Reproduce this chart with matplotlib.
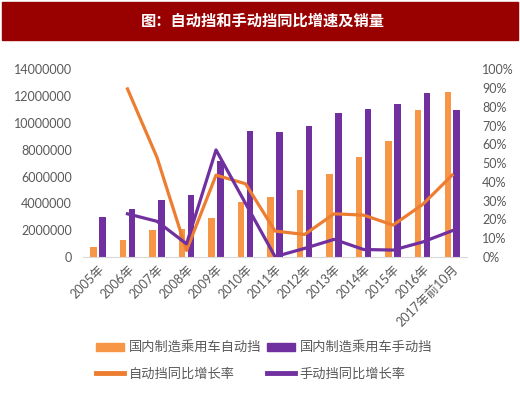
import matplotlib
matplotlib.use("Agg")
import matplotlib.pyplot as plt
import numpy as np
from matplotlib.patches import Patch, Rectangle
from matplotlib.lines import Line2D
from matplotlib.ticker import FuncFormatter

plt.rcParams['font.family'] = ['Lato', 'Noto Sans CJK SC', 'DejaVu Sans']

years = ['2005年', '2006年', '2007年', '2008年', '2009年', '2010年', '2011年',
         '2012年', '2013年', '2014年', '2015年', '2016年', '2017年前10月']
auto_sales = [780000, 1290000, 2030000, 2100000, 2900000, 4070000, 4510000,
              5010000, 6180000, 7420000, 8660000, 10970000, 12290000]
manual_sales = [2960000, 3600000, 4270000, 4640000, 7120000, 9380000, 9350000,
                9730000, 10700000, 11040000, 11390000, 12210000, 10970000]
# growth rates start in 2006
auto_growth = [None, 89.5, 53.0, 3.5, 43.6, 39.0, 13.8, 12.0, 23.0, 22.3, 17.0, 28.0, 43.6]
manual_growth = [None, 23.0, 19.0, 7.0, 57.0, 28.5, 0.2, 4.6, 9.4, 4.0, 3.7, 8.0, 14.0]

c_auto_bar = '#F79646'
c_man = '#7030A0'
c_auto_line = '#ED7D31'
gray = '#595959'

fig = plt.figure(figsize=(5.2, 3.93), dpi=100)
ax = fig.add_axes([0.16, 0.346, 0.738, 0.478])
ax2 = ax.twinx()

x = np.arange(len(years))
ax.bar(x - 0.15, auto_sales, width=0.22, color=c_auto_bar, zorder=2)
ax.bar(x + 0.15, manual_sales, width=0.22, color=c_man, zorder=2)

xa = [i for i, v in enumerate(auto_growth) if v is not None]
ax2.plot(xa, [auto_growth[i] for i in xa], color=c_auto_line, lw=2.3)
xm = [i for i, v in enumerate(manual_growth) if v is not None]
ax2.plot(xm, [manual_growth[i] for i in xm], color=c_man, lw=2.3)

ax.set_xlim(-0.5, len(years) - 0.5)
ax.set_ylim(0, 14000000)
ax.set_yticks(np.arange(0, 14000001, 2000000))
ax.yaxis.set_major_formatter(FuncFormatter(lambda v, p: f'{int(v)}'))
ax2.set_ylim(0, 100)
ax2.set_yticks(np.arange(0, 101, 10))
ax2.yaxis.set_major_formatter(FuncFormatter(lambda v, p: f'{int(v)}%'))

ax.set_xticks(x)
ax.set_xticklabels(years, rotation=45, ha='right', va='top', rotation_mode='anchor')

for a in (ax, ax2):
    for s in a.spines.values():
        s.set_visible(False)
    a.tick_params(length=0, labelsize=9, labelcolor=gray)
ax.spines['bottom'].set_visible(True)
ax.spines['bottom'].set_color('#D9D9D9')
ax.tick_params(axis='y', pad=8)
ax.tick_params(axis='x', pad=4)
ax2.tick_params(axis='y', pad=11)

# title banner
fig.patches.append(Rectangle((2 / 520, 1 - 40 / 393), 516 / 520, 38 / 393,
                             transform=fig.transFigure, color='#990000', zorder=0))
fig.text(0.505, 1 - 21 / 393, '图：自动挡和手动挡同比增速及销量', color='white',
         fontsize=11, fontweight='bold', ha='center', va='center',
         family=['Noto Sans CJK SC'])

handles = [Patch(color=c_auto_bar), Line2D([], [], color=c_auto_line, lw=3.5),
           Patch(color=c_man), Line2D([], [], color=c_man, lw=3.5)]
labels = ['国内制造乘用车自动挡', '自动挡同比增长率', '国内制造乘用车手动挡', '手动挡同比增长率']
leg = fig.legend(handles, labels, ncol=2, loc='center', bbox_to_anchor=(0.508, 0.081),
                 frameon=False, fontsize=9.5, handlelength=2.1, handleheight=0.6,
                 handletextpad=0.4, columnspacing=0.4, labelspacing=1.0,
                 prop={'family': ['Noto Sans CJK SC'], 'size': 9.5})
for t in leg.get_texts():
    t.set_color(gray)

fig.savefig('out.png', dpi=100)
